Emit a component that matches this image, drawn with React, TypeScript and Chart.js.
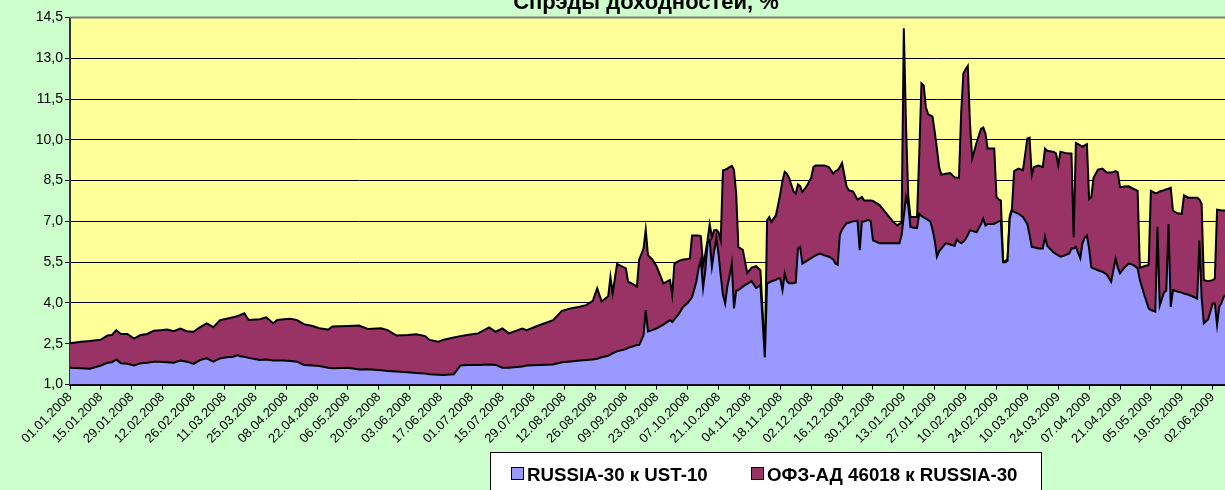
import { useEffect, useRef } from 'react';
import { Chart, registerables } from 'chart.js';

Chart.register(...registerables);

const chartTitle = 'Спрэды доходностей, %';
const seriesNames = ['RUSSIA-30 к UST-10', 'ОФЗ-АД 46018 к RUSSIA-30'];
const seriesColors = ['#9999FF', '#993366'];

// date-axis tick labels, one every 14 days from 01.01.2008
const xTickLabels = [
  '01.01.2008', '15.01.2008', '29.01.2008', '12.02.2008', '26.02.2008', '11.03.2008', '25.03.2008',
  '08.04.2008', '22.04.2008', '06.05.2008', '20.05.2008', '03.06.2008', '17.06.2008', '01.07.2008',
  '15.07.2008', '29.07.2008', '12.08.2008', '26.08.2008', '09.09.2008', '23.09.2008', '07.10.2008',
  '21.10.2008', '04.11.2008', '18.11.2008', '02.12.2008', '16.12.2008', '30.12.2008', '13.01.2009',
  '27.01.2009', '10.02.2009', '24.02.2009', '10.03.2009', '24.03.2009', '07.04.2009', '21.04.2009',
  '05.05.2009', '19.05.2009', '02.06.2009',
];
const xTickStepDays = 14;
const yTickValues = [1.0, 2.5, 4.0, 5.5, 7.0, 8.5, 10.0, 11.5, 13.0, 14.5];

// days since 01.01.2008
const dayOffsets = [
  0, 5, 9, 14, 17, 19, 21, 23, 26, 29, 32, 35, 38, 41, 44, 47, 50, 53, 56, 59,
  62, 65, 68, 71, 74, 76, 77, 79, 81, 86, 89, 92, 94, 97, 100, 103, 106, 110, 113, 117,
  119, 126, 131, 135, 141, 144, 148, 153, 157, 161, 163, 167, 169, 174, 177, 180, 185, 190, 193, 196,
  199, 205, 207, 213, 219, 223, 227, 231, 234, 237, 239, 241, 244, 245, 246, 248, 252, 253, 255, 257,
  258, 260, 261, 262, 264, 266, 269, 272, 273, 274, 276, 278, 280, 281, 282, 283, 284, 285, 286, 287,
  288, 289, 290, 291, 292, 293, 294, 295, 296, 297, 298, 299, 300, 301, 302, 303, 305, 307, 309, 311,
  313, 315, 316, 317, 318, 320, 321, 322, 323, 324, 325, 326, 328, 329, 330, 331, 332, 334, 336, 337,
  338, 340, 342, 344, 346, 347, 348, 349, 350, 352, 353, 355, 357, 358, 359, 360, 362, 363, 364, 367,
  370, 373, 375, 376, 377, 378, 379, 380, 381, 383, 384, 385, 386, 387, 388, 389, 390, 391, 392, 393,
  394, 395, 397, 399, 401, 402, 403, 404, 405, 406, 407, 408, 409, 411, 413, 414, 415, 416, 418, 419,
  420, 421, 422, 423, 424, 425, 426, 427, 428, 430, 432, 434, 435, 436, 437, 439, 441, 442, 443, 446,
  447, 448, 449, 451, 453, 454, 455, 456, 458, 459, 460, 461, 462, 463, 464, 466, 468, 470, 472, 473,
  474, 475, 476, 478, 480, 482, 484, 485, 487, 489, 490, 492, 493, 494, 496, 497, 498, 499, 500, 502,
  504, 505, 507, 510, 511, 512, 513, 514, 516, 518, 519, 520, 521, 522, 523, 524,
];

// RUSSIA-30 к UST-10, %
const russia30VsUst10 = [
  1.62, 1.60, 1.58, 1.70, 1.80, 1.82, 1.92, 1.78, 1.76, 1.70, 1.78, 1.80, 1.84, 1.84, 1.82, 1.80, 1.88, 1.84, 1.76, 1.90,
  1.96, 1.84, 1.96, 2.00, 2.02, 2.08, 2.04, 2.02, 1.98, 1.90, 1.92, 1.88, 1.88, 1.88, 1.86, 1.84, 1.72, 1.70, 1.68, 1.62,
  1.60, 1.62, 1.55, 1.56, 1.52, 1.50, 1.48, 1.45, 1.42, 1.40, 1.38, 1.36, 1.35, 1.38, 1.70, 1.72, 1.72, 1.74, 1.72, 1.62,
  1.62, 1.66, 1.70, 1.72, 1.74, 1.82, 1.85, 1.88, 1.90, 1.92, 1.95, 2.00, 2.06, 2.10, 2.15, 2.22, 2.30, 2.35, 2.40, 2.45,
  2.45, 2.80, 3.74, 2.95, 3.00, 3.07, 3.20, 3.37, 3.30, 3.40, 3.60, 3.86, 4.00, 4.10, 4.22, 4.50, 4.80, 5.30, 5.58, 4.55,
  5.20, 6.19, 6.30, 5.33, 5.90, 6.40, 5.80, 5.00, 4.30, 3.98, 4.60, 5.00, 5.45, 3.80, 4.45, 4.47, 4.60, 4.70, 4.80, 4.55,
  4.65, 2.00, 4.72, 4.75, 4.80, 4.85, 4.90, 4.90, 4.47, 5.09, 4.80, 4.72, 4.72, 4.75, 6.00, 6.06, 5.45, 5.55, 5.65, 5.70,
  5.75, 5.82, 5.75, 5.70, 5.60, 5.45, 5.40, 6.50, 6.70, 6.93, 6.95, 7.00, 7.03, 5.94, 7.00, 7.00, 7.06, 7.00, 6.30, 6.20,
  6.20, 6.20, 6.20, 6.20, 6.50, 7.20, 7.90, 7.60, 6.80, 6.76, 6.76, 7.28, 7.20, 7.15, 7.10, 7.05, 7.00, 6.70, 6.30, 5.70,
  5.90, 6.00, 6.20, 6.15, 6.10, 6.33, 6.25, 6.20, 6.25, 6.35, 6.50, 6.67, 6.65, 6.60, 6.90, 7.10, 6.85, 6.90, 6.90, 6.91,
  6.95, 7.00, 7.03, 5.50, 5.50, 5.55, 7.10, 7.40, 7.35, 7.28, 7.16, 6.90, 6.50, 6.06, 6.05, 6.00, 6.00, 6.44, 6.10, 5.85,
  5.80, 5.75, 5.70, 5.75, 5.82, 6.00, 6.00, 6.06, 5.64, 6.20, 6.40, 6.48, 6.00, 5.30, 5.27, 5.20, 5.15, 5.05, 4.78, 5.20,
  5.64, 5.30, 5.09, 5.30, 5.45, 5.40, 5.27, 4.84, 4.30, 3.80, 3.74, 3.68, 6.80, 3.90, 4.40, 4.45, 6.90, 3.86, 4.47, 4.42,
  4.38, 4.35, 4.30, 4.20, 4.16, 6.30, 4.20, 3.25, 3.40, 3.98, 3.98, 3.19, 3.86, 4.00, 4.22, 4.30,
];

// ОФЗ-АД 46018 к RUSSIA-30, %
const ofzVsRussia30 = [
  0.90, 0.97, 1.02, 0.95, 1.00, 1.00, 1.08, 1.08, 1.10, 0.99, 1.04, 1.06, 1.14, 1.16, 1.20, 1.16, 1.18, 1.12, 1.18, 1.21,
  1.29, 1.27, 1.41, 1.42, 1.45, 1.44, 1.51, 1.60, 1.39, 1.50, 1.55, 1.37, 1.49, 1.52, 1.56, 1.53, 1.50, 1.45, 1.39, 1.40,
  1.53, 1.53, 1.62, 1.48, 1.55, 1.50, 1.32, 1.37, 1.43, 1.38, 1.26, 1.21, 1.29, 1.35, 1.08, 1.10, 1.16, 1.36, 1.22, 1.44,
  1.26, 1.40, 1.30, 1.47, 1.63, 1.89, 1.95, 1.98, 2.02, 2.16, 2.59, 2.05, 2.19, 2.86, 2.20, 3.21, 2.97, 2.43, 2.30, 2.15,
  3.13, 3.20, 2.96, 2.81, 2.60, 2.26, 1.52, 1.47, 0.99, 2.05, 1.95, 1.74, 1.62, 1.54, 2.26, 1.98, 1.68, 1.18, 0.87, 0.85,
  0.60, 0.11, 0.60, 1.09, 0.77, 0.29, 0.80, 1.30, 4.58, 4.92, 4.34, 4.00, 3.59, 5.10, 3.57, 1.58, 1.35, 0.40, 0.50, 0.80,
  0.55, 0.05, 2.31, 2.41, 2.18, 2.37, 2.70, 3.12, 4.03, 3.73, 3.95, 3.88, 3.38, 3.27, 2.36, 2.24, 2.63, 2.75, 2.95, 3.30,
  3.31, 3.24, 3.31, 3.30, 3.16, 3.40, 3.48, 2.50, 2.45, 1.37, 1.20, 1.10, 0.77, 1.91, 0.90, 0.77, 0.71, 0.77, 1.45, 1.40,
  1.10, 0.80, 0.65, 0.71, 0.45, 6.90, 2.60, 0.35, 0.36, 0.40, 0.40, 2.22, 4.88, 4.85, 4.10, 3.90, 3.90, 4.15, 4.00, 3.98,
  3.10, 2.72, 2.55, 2.63, 2.52, 2.28, 2.35, 4.80, 6.20, 6.25, 6.22, 3.93, 2.66, 3.30, 3.50, 3.35, 3.38, 2.78, 2.78, 2.77,
  0.95, 0.80, 0.74, 0.00, 0.05, 0.05, 0.10, 0.05, 1.50, 1.66, 1.72, 3.15, 3.58, 2.64, 2.95, 3.05, 3.00, 3.24, 3.50, 3.70,
  3.70, 3.31, 3.86, 3.77, 3.68, 3.50, 0.42, 3.83, 4.16, 3.54, 3.40, 3.36, 1.83, 2.60, 3.33, 3.70, 3.79, 3.75, 4.02, 3.62,
  3.21, 3.50, 3.17, 2.98, 2.84, 2.80, 2.85, 0.46, 1.05, 1.60, 4.38, 4.36, 1.25, 4.20, 3.75, 3.73, 1.30, 4.38, 2.93, 2.88,
  2.90, 3.61, 3.57, 3.67, 3.71, 1.50, 3.45, 1.59, 1.40, 0.86, 0.92, 4.24, 3.56, 3.40, 3.18, 3.10,
];

const FONT = '"Liberation Sans", Arial, sans-serif';
const W = 1225;
const H = 490;

export default function App() {
  const ref = useRef<HTMLCanvasElement>(null);

  useEffect(() => {
    const canvas = ref.current;
    if (!canvas) return;

    const decor = {
      id: 'decor',
      beforeDraw(chart: any) {
        const { ctx, chartArea } = chart;
        ctx.save();
        ctx.fillStyle = '#CCFFCC';
        ctx.fillRect(0, 0, chart.width, chart.height);
        ctx.fillStyle = '#FFFF99';
        ctx.fillRect(chartArea.left, chartArea.top, chartArea.right - chartArea.left, chartArea.bottom - chartArea.top);
        ctx.restore();
      },
      afterDraw(chart: any) {
        const { ctx, chartArea } = chart;
        ctx.save();
        // plot-area top border
        ctx.strokeStyle = '#808080';
        ctx.lineWidth = 2;
        ctx.beginPath();
        ctx.moveTo(chartArea.left, chartArea.top);
        ctx.lineTo(chartArea.right, chartArea.top);
        ctx.stroke();

        // title
        ctx.fillStyle = '#000';
        ctx.font = `bold 22px ${FONT}`;
        ctx.textAlign = 'center';
        ctx.textBaseline = 'alphabetic';
        ctx.fillText(chartTitle, 646, 9);

        // legend
        const boxX = 490.5;
        const boxY = 452.5;
        ctx.fillStyle = '#FFFFFF';
        ctx.fillRect(boxX, boxY, 551, 50);
        ctx.strokeStyle = '#000';
        ctx.lineWidth = 1;
        ctx.strokeRect(boxX, boxY, 551, 50);
        ctx.font = `bold 18.7px ${FONT}`;
        ctx.textAlign = 'left';
        const starts = [511, 751];
        chart.data.datasets.forEach((ds: any, i: number) => {
          const sx = starts[i];
          ctx.fillStyle = ds.backgroundColor;
          ctx.fillRect(sx + 0.5, 467.5, 12, 12);
          ctx.strokeStyle = '#000';
          ctx.strokeRect(sx + 0.5, 467.5, 12, 12);
          ctx.fillStyle = '#000';
          ctx.fillText(ds.label, sx + 16, 480.5);
        });
        ctx.restore();
      },
    };

    const chart = new Chart(canvas, {
      type: 'line',
      data: {
        datasets: [
          {
            label: seriesNames[0],
            data: dayOffsets.map((d, i) => ({ x: d, y: russia30VsUst10[i] })),
            backgroundColor: seriesColors[0],
            borderColor: '#000',
            borderWidth: 2,
            fill: 'start',
            pointRadius: 0,
            tension: 0,
          },
          {
            label: seriesNames[1],
            data: dayOffsets.map((d, i) => ({ x: d, y: ofzVsRussia30[i] })),
            backgroundColor: seriesColors[1],
            borderColor: '#000',
            borderWidth: 2,
            fill: '-1',
            pointRadius: 0,
            tension: 0,
          },
        ],
      },
      options: {
        responsive: false,
        animation: false,
        devicePixelRatio: 1,
        layout: { padding: { top: 17.5, right: 0, bottom: 0, left: 0 } },
        plugins: {
          legend: { display: false },
          title: { display: false },
          tooltip: { enabled: false },
        },
        scales: {
          x: {
            type: 'linear',
            min: 0,
            max: 523.6,
            afterFit: (s: any) => {
              s.height = 105.5;
            },
            afterBuildTicks: (s: any) => {
              s.ticks = xTickLabels.map((_, i) => ({ value: i * xTickStepDays }));
            },
            ticks: {
              autoSkip: false,
              minRotation: 45,
              maxRotation: 45,
              padding: 0,
              color: '#000',
              font: { family: FONT, size: 13 },
              callback: (v: any) => xTickLabels[Math.round(Number(v) / xTickStepDays)] ?? '',
            },
            grid: {
              drawOnChartArea: false,
              drawTicks: true,
              tickLength: 5,
              color: '#000',
              tickColor: '#000',
            },
            border: { color: '#000', width: 2 },
          },
          y: {
            min: 1,
            max: 14.5,
            stacked: true,
            afterFit: (s: any) => {
              s.width = 70;
            },
            afterBuildTicks: (s: any) => {
              s.ticks = yTickValues.map((v) => ({ value: v }));
            },
            ticks: {
              padding: 2,
              color: '#000',
              font: { family: FONT, size: 14 },
              callback: (v: any) => Number(v).toFixed(1).replace('.', ','),
            },
            grid: {
              color: (c: any) => (c.tick && c.tick.value >= 14.5 ? 'rgba(0,0,0,0)' : '#000'),
              lineWidth: 1,
              drawTicks: true,
              tickLength: 5,
              tickColor: '#000',
            },
            border: { color: '#333', width: 2 },
          },
        },
      },
      plugins: [decor],
    });

    return () => chart.destroy();
  }, []);

  return (
    <div style={{ position: 'fixed', left: 0, top: 0, width: W, height: H, overflow: 'hidden', background: '#CCFFCC' }}>
      <canvas ref={ref} width={W} height={H} style={{ display: 'block', width: W, height: H }} />
    </div>
  );
}
